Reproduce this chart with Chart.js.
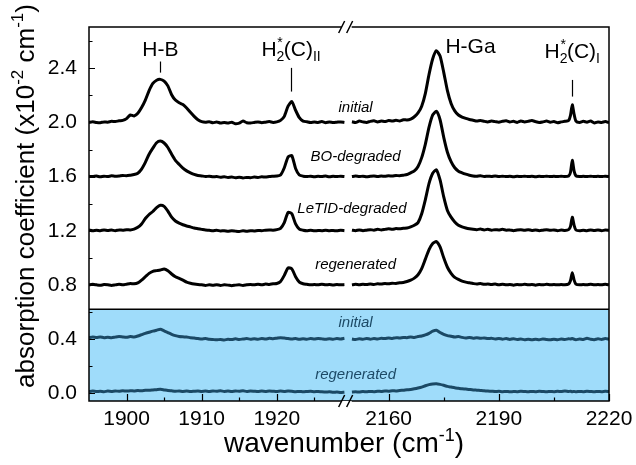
<!DOCTYPE html>
<html>
<head>
<meta charset="utf-8">
<script src="https://cdn.jsdelivr.net/npm/chart.js@4.4.1/dist/chart.umd.min.js"></script>
<style>
body { margin: 0; background: #fff; }
</style>
</head>
<body>
<canvas id="mycanvas" width="636" height="465"></canvas>
<script>
// wavenumber samples, left part (cm-1) and right part (cm-1)
var leftX = [1895,1895.5,1896,1896.5,1897,1897.5,1898,1898.5,1899,1899.5,
  1900,1900.5,1901,1901.5,1902,1902.5,1903,1903.5,1904,1904.5,
  1905,1905.5,1906,1906.5,1907,1907.5,1908,1908.5,1909,1909.5,
  1910,1910.5,1911,1911.5,1912,1912.5,1913,1913.5,1914,1914.5,
  1915,1915.5,1916,1916.5,1917,1917.5,1918,1918.5,1919,1919.5,
  1920,1920.5,1921,1921.5,1922,1922.5,1923,1923.5,1924,1924.5,
  1925,1925.5,1926,1926.5,1927,1927.5,1928,1928.5,1929];
var rightX = [2150,2151,2152,2153,2154,2155,2156,2157,2158,2159,
  2160,2161,2162,2163,2164,2165,2166,2167,2168,2169,
  2170,2171,2172,2173,2174,2175,2176,2177,2178,2179,
  2180,2181,2182,2183,2184,2185,2186,2187,2188,2189,
  2190,2191,2192,2193,2194,2195,2196,2197,2198,2199,
  2200,2201,2202,2203,2204,2205,2206,2207,2208,2209,
  2209.5,2210,2210.5,
  2211,2212,2213,2214,2215,2216,2217,2218,2219,2220];

// upper panel spectra (already offset as plotted)
var initialL = [2.000,2.005,2.000,1.998,2.004,2.002,2.008,2.006,2.012,2.015,
  2.028,2.055,2.048,2.068,2.110,2.165,2.235,2.288,2.312,2.318,
  2.305,2.270,2.205,2.165,2.145,2.132,2.107,2.075,2.045,2.020,
  2.006,2.002,2.005,1.998,2.003,1.996,2.000,1.995,2.002,1.990,
  1.995,2.010,1.998,1.995,2.000,2.004,1.998,2.002,2.006,2.000,
  2.004,2.015,2.045,2.120,2.155,2.090,2.035,2.010,2.005,2.000,
  2.004,2.000,2.006,1.998,2.004,2.000,2.002,2.004,2.000];
var initialR = [2.005,2.000,2.010,2.004,2.000,2.008,2.012,2.004,2.010,2.006,
  2.014,2.010,2.016,2.010,2.020,2.018,2.025,2.042,2.070,2.120,
  2.215,2.355,2.470,2.530,2.490,2.370,2.235,2.140,2.085,2.055,
  2.040,2.030,2.022,2.016,2.010,2.014,2.008,2.004,2.010,2.006,
  2.002,2.008,2.012,2.004,2.008,2.000,2.010,2.004,2.008,2.014,
  2.006,2.000,2.004,2.010,2.002,2.006,1.998,2.004,2.008,2.014,
  2.050,2.130,2.060,
  2.010,2.000,2.008,2.002,2.010,1.996,2.004,2.000,2.006,1.998];

var boL = [1.602,1.600,1.604,1.598,1.603,1.600,1.606,1.602,1.604,1.608,
  1.606,1.610,1.615,1.625,1.655,1.705,1.765,1.810,1.850,1.862,
  1.848,1.815,1.765,1.720,1.690,1.662,1.642,1.628,1.616,1.608,
  1.605,1.600,1.603,1.598,1.600,1.595,1.598,1.594,1.596,1.592,
  1.595,1.590,1.594,1.592,1.596,1.594,1.598,1.596,1.600,1.602,
  1.604,1.612,1.665,1.745,1.755,1.660,1.612,1.603,1.600,1.603,
  1.598,1.602,1.600,1.604,1.598,1.602,1.600,1.603,1.600];
var boR = [1.600,1.604,1.600,1.603,1.598,1.602,1.605,1.600,1.604,1.602,
  1.606,1.604,1.608,1.606,1.610,1.615,1.628,1.642,1.675,1.740,
  1.840,1.965,2.055,2.082,2.020,1.890,1.780,1.710,1.665,1.640,
  1.628,1.618,1.610,1.604,1.603,1.606,1.600,1.603,1.601,1.604,
  1.600,1.603,1.600,1.602,1.598,1.602,1.600,1.603,1.600,1.602,
  1.599,1.602,1.600,1.603,1.600,1.602,1.600,1.603,1.600,1.604,
  1.630,1.720,1.640,
  1.605,1.600,1.602,1.600,1.603,1.600,1.602,1.600,1.603,1.600];

var letidL = [1.205,1.200,1.204,1.200,1.206,1.202,1.205,1.200,1.206,1.204,
  1.208,1.206,1.212,1.225,1.250,1.290,1.320,1.342,1.370,1.388,
  1.380,1.345,1.300,1.272,1.256,1.244,1.235,1.228,1.220,1.215,
  1.210,1.205,1.203,1.200,1.204,1.198,1.200,1.196,1.200,1.197,
  1.195,1.199,1.196,1.200,1.198,1.202,1.200,1.204,1.206,1.204,
  1.208,1.218,1.260,1.335,1.325,1.250,1.212,1.204,1.200,1.203,
  1.199,1.202,1.200,1.204,1.200,1.202,1.199,1.203,1.200];
var letidR = [1.204,1.200,1.206,1.200,1.204,1.208,1.204,1.210,1.206,1.210,
  1.214,1.210,1.216,1.214,1.218,1.220,1.228,1.240,1.260,1.325,
  1.430,1.550,1.625,1.650,1.575,1.450,1.350,1.300,1.265,1.240,
  1.228,1.220,1.214,1.210,1.208,1.212,1.206,1.210,1.204,1.208,
  1.206,1.210,1.204,1.206,1.200,1.205,1.208,1.204,1.208,1.202,
  1.206,1.200,1.204,1.208,1.203,1.206,1.200,1.205,1.202,1.208,
  1.230,1.300,1.240,
  1.205,1.200,1.204,1.200,1.206,1.202,1.206,1.200,1.205,1.202];

var regenL = [0.800,0.804,0.800,0.797,0.802,0.800,0.796,0.800,0.804,0.800,
  0.805,0.810,0.808,0.815,0.835,0.860,0.885,0.900,0.905,0.910,
  0.918,0.905,0.880,0.860,0.848,0.835,0.820,0.812,0.806,0.802,
  0.800,0.796,0.800,0.797,0.801,0.796,0.800,0.798,0.794,0.798,
  0.800,0.796,0.800,0.803,0.800,0.804,0.800,0.806,0.803,0.808,
  0.810,0.825,0.870,0.925,0.918,0.860,0.820,0.808,0.804,0.800,
  0.803,0.800,0.804,0.800,0.803,0.799,0.802,0.800,0.802];
var regenR = [0.800,0.804,0.800,0.805,0.802,0.806,0.803,0.808,0.806,0.810,
  0.808,0.812,0.810,0.815,0.818,0.825,0.835,0.850,0.875,0.920,
  0.990,1.060,1.105,1.120,1.080,1.000,0.930,0.885,0.855,0.840,
  0.828,0.820,0.815,0.810,0.806,0.810,0.804,0.806,0.802,0.806,
  0.800,0.804,0.800,0.803,0.798,0.802,0.800,0.804,0.800,0.803,
  0.798,0.802,0.800,0.804,0.800,0.803,0.800,0.803,0.800,0.806,
  0.830,0.890,0.835,
  0.805,0.800,0.803,0.800,0.804,0.800,0.803,0.800,0.804,0.800];

// lower (blue) panel: difference spectra
var diffInitL = [0.410,0.415,0.412,0.415,0.410,0.413,0.409,0.414,0.418,0.415,
  0.413,0.418,0.415,0.422,0.432,0.442,0.450,0.458,0.465,0.472,
  0.460,0.448,0.435,0.425,0.418,0.416,0.415,0.410,0.407,0.404,
  0.400,0.403,0.398,0.396,0.394,0.397,0.393,0.398,0.396,0.401,
  0.397,0.400,0.403,0.399,0.402,0.398,0.404,0.400,0.405,0.402,
  0.406,0.410,0.407,0.404,0.400,0.403,0.398,0.402,0.399,0.403,
  0.400,0.404,0.401,0.398,0.402,0.399,0.403,0.400,0.405];
var diffInitR = [0.400,0.396,0.402,0.398,0.404,0.399,0.403,0.400,0.406,0.403,
  0.408,0.404,0.410,0.407,0.412,0.410,0.415,0.412,0.418,0.422,
  0.430,0.442,0.458,0.465,0.448,0.435,0.425,0.420,0.414,0.418,
  0.412,0.408,0.412,0.406,0.410,0.405,0.408,0.403,0.406,0.400,
  0.404,0.399,0.403,0.397,0.402,0.396,0.400,0.395,0.399,0.394,
  0.398,0.395,0.400,0.396,0.394,0.399,0.395,0.400,0.396,0.402,
  0.400,0.404,0.398,
  0.395,0.400,0.396,0.405,0.398,0.395,0.401,0.397,0.403,0.398];

var diffRegenL = [0.012,0.015,0.012,0.014,0.011,0.015,0.013,0.016,0.014,0.017,
  0.015,0.018,0.016,0.019,0.018,0.021,0.022,0.024,0.026,0.028,
  0.024,0.020,0.017,0.014,0.016,0.013,0.015,0.012,0.014,0.016,
  0.013,0.015,0.012,0.016,0.014,0.017,0.013,0.015,0.012,0.016,
  0.014,0.017,0.013,0.016,0.014,0.012,0.015,0.013,0.016,0.014,
  0.012,0.015,0.013,0.016,0.014,0.011,0.013,0.010,0.012,0.014,
  0.011,0.013,0.010,0.008,0.010,0.006,0.008,0.005,0.007];
var diffRegenR = [0.008,0.010,0.008,0.012,0.010,0.013,0.011,0.014,0.013,0.016,
  0.014,0.018,0.016,0.020,0.022,0.025,0.027,0.032,0.038,0.045,
  0.055,0.063,0.068,0.070,0.065,0.058,0.050,0.045,0.040,0.036,
  0.032,0.030,0.027,0.024,0.022,0.020,0.018,0.015,0.014,0.012,
  0.014,0.011,0.013,0.010,0.012,0.011,0.014,0.012,0.010,0.013,
  0.011,0.014,0.012,0.010,0.013,0.011,0.014,0.012,0.015,0.012,
  0.014,0.011,0.013,
  0.010,0.013,0.011,0.014,0.012,0.010,0.013,0.011,0.014,0.012];

// axis ticks
var xTickWn = [1900,1905,1910,1915,1920,1925,2160,2175,2190,2205,2220];
var xTickLabels = ['1900','','1910','','1920','','2160','','2190','','2220'];
var yTickVals = [0,0.2,0.4,0.6,0.8,1.0,1.2,1.4,1.6,1.8,2.0,2.2,2.4,2.6];
var yTickLabels = ['0.0','','0.4','','0.8','','1.2','','1.6','','2.0','','2.4',''];

var spectrumNames = ['initial','BO-degraded','LeTID-degraded','regenerated','initial','regenerated'];

// broken axis: 1895-1930 and 2150-2220 squeezed onto one linear scale
var FONT = "'Liberation Sans', Arial, sans-serif";
function toU(wn) {
  if (wn < 2000) return wn - 1895;
  return 35 + (wn - 2150) * 0.4889;
}

function pts(l, r) {
  var out = [];
  for (var i = 0; i < leftX.length; i++) out.push({x: toU(leftX[i]), y: l[i]});
  out.push({x: 34.5, y: null});
  for (var j = 0; j < rightX.length; j++) out.push({x: toU(rightX[j]), y: r[j]});
  return out;
}

function ds(l, r, color) {
  return {
    data: pts(l, r),
    borderColor: color,
    borderWidth: 3,
    pointRadius: 0,
    tension: 0.2,
    spanGaps: false,
    fill: false
  };
}

// rich text: parts = [text, size, dy, dx]
function richText(ctx, parts, x, y, style) {
  var w = 0;
  parts.forEach(function(p) {
    ctx.font = (style || '') + p[1] + 'px ' + FONT;
    w += ctx.measureText(p[0]).width + (p[3] || 0);
  });
  var cx = x - w / 2;
  parts.forEach(function(p) {
    ctx.font = (style || '') + p[1] + 'px ' + FONT;
    cx += (p[3] || 0);
    ctx.fillText(p[0], cx, y + p[2]);
    cx += ctx.measureText(p[0]).width;
  });
}

var peakLabels = [
  {parts: [['H-B',21,0]], wn: 1904.5, y: 2.492, line: [2.45, 2.368]},
  {parts: [['H',21,0],['2',14,5],['*',14,-9,-7],['(C)',21,0,1],['II',14,5]], wn: 1921.9, y: 2.492, line: [2.403, 2.228]},
  {parts: [['H-Ga',21,0]], wn: 2182.3, y: 2.516, line: null},
  {parts: [['H',21,0],['2',14,5],['*',14,-9,-7],['(C)',21,0,1],['I',14,5]], wn: 2210.0, y: 2.477, line: [2.314, 2.191]}
];
var curveLabels = [
  {wn: 2151, y: 2.08, color: '#000'},
  {wn: 2151, y: 1.715, color: '#000'},
  {wn: 1930, y: 1.33, color: '#000'},
  {wn: 2151, y: 0.916, color: '#000'},
  {wn: 2151, y: 0.487, color: '#1d4a66'},
  {wn: 2151, y: 0.103, color: '#1d4a66'}
];

var decor = {
  id: 'decor',
  beforeDatasetsDraw: function(chart) {
    var ctx = chart.ctx, a = chart.chartArea;
    var top = chart.scales.y.getPixelForValue(0.62);
    ctx.save();
    ctx.fillStyle = '#9fdcfa';
    ctx.fillRect(a.left, top, a.right - a.left, a.bottom - top);
    ctx.strokeStyle = '#000';
    ctx.lineWidth = 1.5;
    ctx.beginPath();
    ctx.moveTo(a.left, top);
    ctx.lineTo(a.right, top);
    ctx.stroke();
    ctx.restore();
  },
  afterDatasetsDraw: function(chart) {
    var ctx = chart.ctx, a = chart.chartArea;
    var xs = chart.scales.x, ys = chart.scales.y;
    ctx.save();
    ctx.strokeStyle = '#000';
    ctx.lineWidth = 1.5;
    ctx.strokeRect(a.left, a.top, a.right - a.left, a.bottom - a.top);

    // inward ticks
    ctx.lineWidth = 1.2;
    ctx.beginPath();
    yTickVals.forEach(function(v, i) {
      var py = Math.round(ys.getPixelForValue(v)) + 0.5;
      var len = yTickLabels[i] ? 6 : 3.5;
      ctx.moveTo(a.left, py);
      ctx.lineTo(a.left + len, py);
    });
    xTickWn.forEach(function(v, i) {
      var px = Math.round(xs.getPixelForValue(toU(v))) + 0.5;
      var len = xTickLabels[i] ? 7 : 3.5;
      ctx.moveTo(px, a.bottom);
      ctx.lineTo(px, a.bottom - len);
    });
    ctx.stroke();

    // axis break marks
    var bx = xs.getPixelForValue(34.3);
    [a.top, a.bottom].forEach(function(by, k) {
      ctx.fillStyle = '#fff';
      ctx.fillRect(bx - 5, by - (k ? 0 : 1.5), 10, 3);
      ctx.strokeStyle = '#000';
      ctx.lineWidth = 1.5;
      ctx.beginPath();
      ctx.moveTo(bx - 8, by + 6);
      ctx.lineTo(bx - 2, by - 6);
      ctx.moveTo(bx, by + 6);
      ctx.lineTo(bx + 6, by - 6);
      ctx.stroke();
    });

    // peak assignments
    ctx.fillStyle = '#000';
    ctx.textBaseline = 'alphabetic';
    peakLabels.forEach(function(p) {
      var px = xs.getPixelForValue(toU(p.wn));
      richText(ctx, p.parts, px, ys.getPixelForValue(p.y));
      if (p.line) {
        ctx.lineWidth = 1.2;
        ctx.beginPath();
        ctx.moveTo(Math.round(px) + 0.5, ys.getPixelForValue(p.line[0]));
        ctx.lineTo(Math.round(px) + 0.5, ys.getPixelForValue(p.line[1]));
        ctx.stroke();
      }
    });

    // spectrum names
    ctx.textAlign = 'center';
    ctx.font = 'italic 15px ' + FONT;
    curveLabels.forEach(function(c, i) {
      ctx.fillStyle = c.color;
      ctx.fillText(spectrumNames[i], xs.getPixelForValue(toU(c.wn)), ys.getPixelForValue(c.y));
    });
    ctx.textAlign = 'left';

    // axis titles
    ctx.fillStyle = '#000';
    richText(ctx, [['wavenumber (cm',28,0],['-1',18,-11],[')',28,0]], 344, 452);
    ctx.translate(34, 196);
    ctx.rotate(-Math.PI / 2);
    richText(ctx, [['absorption coefficient (x10',26,0],['-2',17,-11],[' cm',26,0],['-1',17,-11],[')',26,0]], 0, 0);
    ctx.restore();
  }
};

var ctx = document.getElementById('mycanvas').getContext('2d');
var chart = new Chart(ctx, {
  type: 'line',
  data: {
    datasets: [
      ds(initialL, initialR, '#000'),
      ds(boL, boR, '#000'),
      ds(letidL, letidR, '#000'),
      ds(regenL, regenR, '#000'),
      ds(diffInitL, diffInitR, '#1b4965'),
      ds(diffRegenL, diffRegenR, '#1b4965')
    ]
  },
  options: {
    responsive: false,
    animation: false,
    layout: { padding: { top: 27, right: 27, left: 0, bottom: 0 } },
    plugins: { legend: { display: false }, tooltip: { enabled: false } },
    scales: {
      x: {
        type: 'linear',
        min: 0,
        max: toU(2220),
        grid: { display: false, drawTicks: false },
        border: { display: false },
        afterBuildTicks: function(scale) {
          scale.ticks = xTickWn.map(function(v) { return {value: toU(v)}; });
        },
        afterFit: function(scale) {
          scale.height = 64;
          scale.paddingLeft = 0;
          scale.paddingRight = 0;
        },
        ticks: {
          autoSkip: false,
          maxRotation: 0,
          padding: 6,
          color: '#000',
          font: { family: FONT, size: 21 },
          callback: function(v, i) { return xTickLabels[i]; }
        }
      },
      y: {
        min: -0.058,
        max: 2.705,
        grid: { display: false, drawTicks: false },
        border: { display: false },
        afterBuildTicks: function(scale) {
          scale.ticks = yTickVals.map(function(v) { return {value: v}; });
        },
        afterFit: function(scale) {
          scale.width = 89;
          scale.paddingTop = 0;
          scale.paddingBottom = 0;
        },
        ticks: {
          autoSkip: false,
          padding: 12,
          color: '#000',
          font: { family: FONT, size: 21 },
          callback: function(v, i) { return yTickLabels[i]; }
        }
      }
    }
  },
  plugins: [decor]
});
</script>
</body>
</html>
